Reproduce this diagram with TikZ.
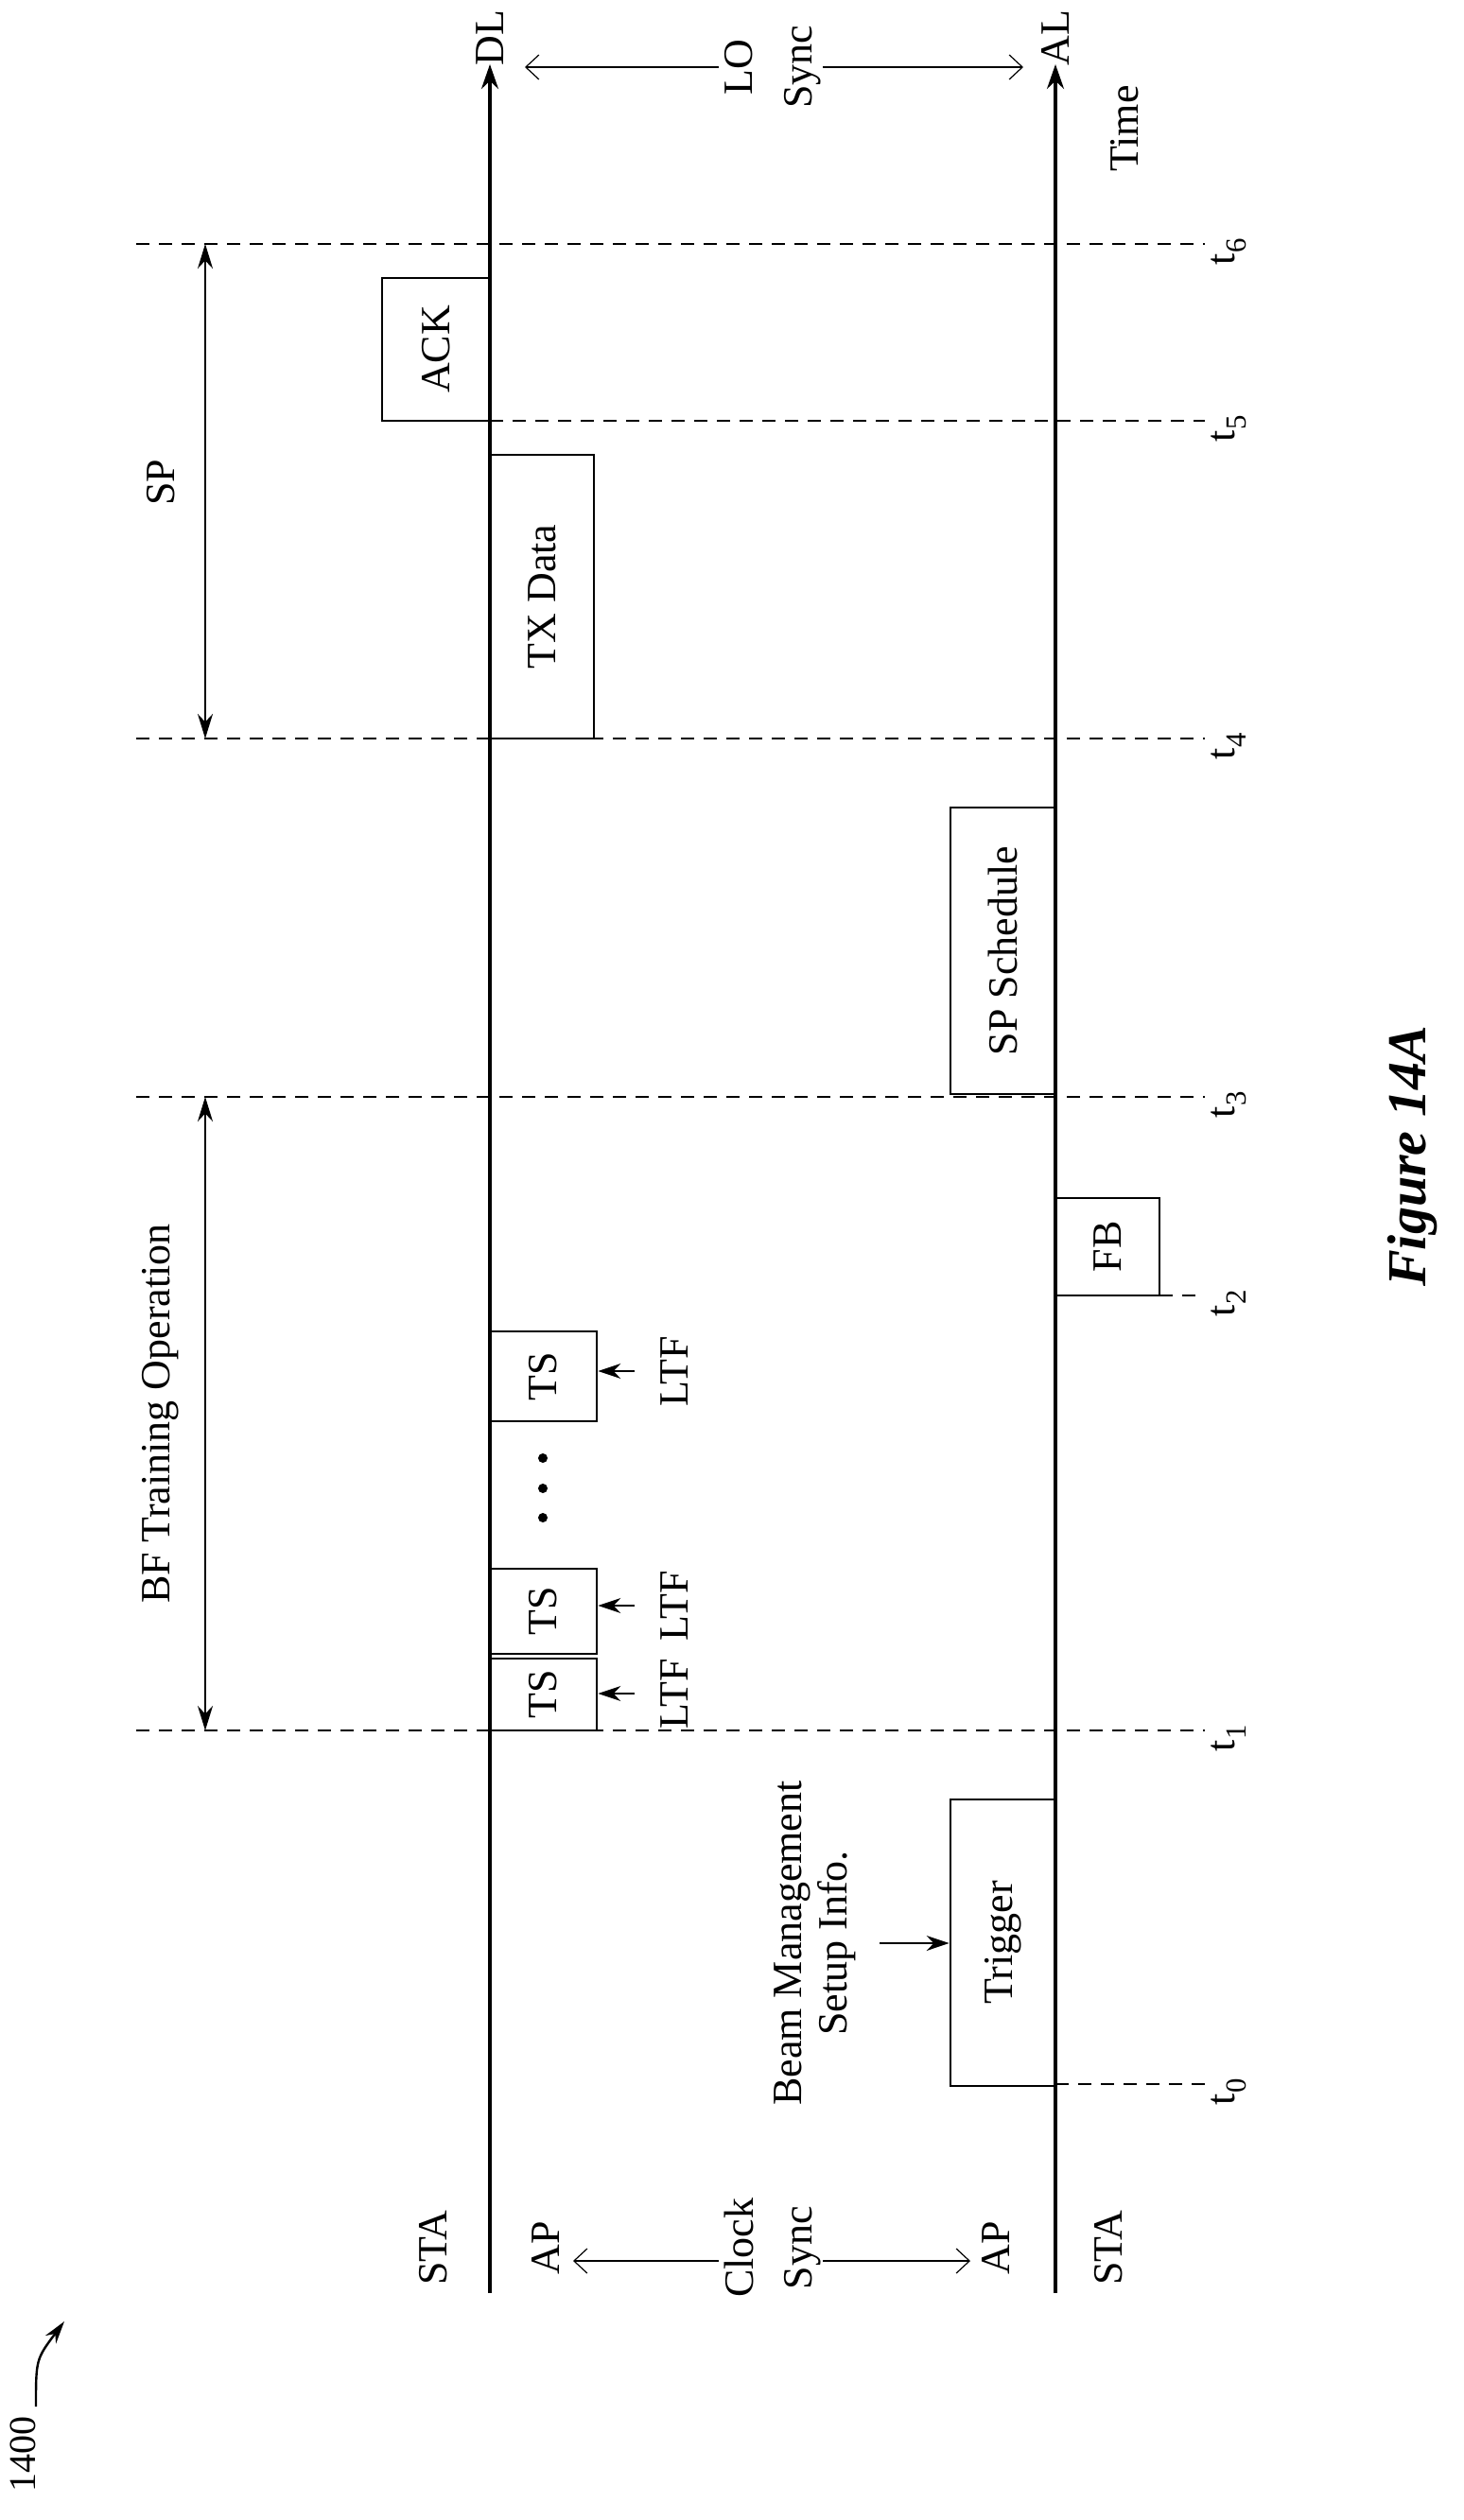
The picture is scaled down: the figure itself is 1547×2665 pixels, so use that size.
\documentclass[tikz,border=0pt]{standalone}
\usepackage{fontspec}
\setmainfont{Liberation Serif}
\usetikzlibrary{arrows.meta,calc}
\begin{document}
\begin{tikzpicture}[x=1pt,y=-1pt]
\tikzstyle{lbl}=[inner sep=0pt, rotate=90, font=\fontsize{44}{48}\selectfont]
\tikzstyle{frame}=[draw, line width=2.8pt, rotate=90, font=\fontsize{44}{48}\selectfont]
\tikzstyle{axis}=[line width=3.4pt, -{Stealth[length=26pt,width=18pt]}]
\tikzstyle{tmark}=[line width=1.4pt, dash pattern=on 14pt off 10pt]
\tikzstyle{span}=[line width=2.2pt, {Stealth[length=26pt,width=16pt]}-{Stealth[length=26pt,width=16pt]}]
\tikzstyle{sync}=[line width=1.2pt, -{Straight Barb[length=14pt,width=26pt]}]
\tikzstyle{feed}=[line width=1.6pt, -{Stealth[length=24pt,width=16pt]}]

\useasboundingbox (0,0) rectangle (1547,2665);

% axes
\coordinate (DLbot) at (518,2425);
\coordinate (DLtop) at (518,68);
\coordinate (ALbot) at (1116,2425);
\coordinate (ALtop) at (1116,68);
\draw[axis] (DLbot) -- (DLtop);
\draw[axis] (ALbot) -- (ALtop);
\node[lbl] (DL) at (518,40) {DL};
\node[lbl] (AL) at (1116,40) {AL};
\node[lbl] (LO)   at (781,71) {LO};
\node[lbl] (LOs)  at (849,71) {Sync};
\coordinate (LOl) at (555,71);
\coordinate (LOr) at (1082,71);
\coordinate (LOa) at (760,71);
\coordinate (LOb) at (870,71);
\draw[sync] (LOa) -- (LOl);
\draw[sync] (LOb) -- (LOr);
\node[lbl] (time) at (1189,136) {Time};

% left labels
\node[lbl] (sta1) at (458,2377) {STA};
\node[lbl] (ap1)  at (577,2377) {AP};
\node[lbl] (clk)  at (781,2377) {Clock};
\node[lbl] (clks) at (849,2377) {Sync};
\node[lbl] (ap2)  at (1053,2377) {AP};
\node[lbl] (sta2) at (1172,2377) {STA};
\coordinate (CKl) at (606,2391);
\coordinate (CKr) at (1026,2391);
\coordinate (CKa) at (760,2391);
\coordinate (CKb) at (870,2391);
\draw[sync] (CKa) -- (CKl);
\draw[sync] (CKb) -- (CKr);

% time marks
\foreach \n/\y/\xa in {0/2204/1116, 1/1830/144, 2/1370/1226, 3/1160/144, 4/781/144, 5/445/518, 6/258/144}{
  \coordinate (ta\n) at (\xa,\y);
  \coordinate (tb\n) at (1274,\y);
  \draw[tmark] (ta\n) -- (tb\n);
  \node[lbl] (t\n) at (1299,\y+8) {t\textsubscript{\n}};
}

% spans
\coordinate (BFa) at (217,1160);
\coordinate (BFb) at (217,1830);
\draw[span] (BFa) -- (BFb);
\node[lbl] (BF) at (170,1495) {BF Training Operation};
\coordinate (SPa) at (217,258);
\coordinate (SPb) at (217,781);
\draw[span] (SPa) -- (SPb);
\node[lbl] (SP) at (170,510) {SP};

% frames
\node[frame, minimum width=303pt, minimum height=111pt] (trig) at (1060.5,2054.5) {Trigger};
\node[frame, minimum width=103pt, minimum height=110pt] (fb)   at (1171,1318.5) {FB};
\node[frame, minimum width=303pt, minimum height=111pt] (sps)  at (1060.5,1005.5) {SP Schedule};
\node[frame, minimum width=300pt, minimum height=110pt] (tx)   at (573,631) {TX Data};
\node[frame, minimum width=151pt, minimum height=114pt] (ack)  at (461,369.5) {ACK};
\node[frame, minimum width=76pt,  minimum height=113pt] (ts1)  at (574.5,1792) {TS};
\node[frame, minimum width=90pt,  minimum height=113pt] (ts2)  at (574.5,1704) {TS};
\node[frame, minimum width=95pt,  minimum height=113pt] (ts3)  at (574.5,1455.5) {TS};
\foreach \y in {1542,1574,1605}{ \fill (574,\y) circle (5pt); }

% LTF feeds
\foreach \k/\y in {1/1791,2/1698,3/1450}{
  \coordinate (lf\k) at (671,\y);
  \draw[feed] (lf\k) -- (ts\k.south |- lf\k);
  \node[lbl] (ltf\k) at (713,\y) {LTF};
}

% beam management
\node[lbl, align=center] (bm) at (862,2055) {Beam Management\\Setup Info.};
\coordinate (bmf) at (930,2055);
\draw[feed] (bmf) -- (trig.north |- bmf);

% figure label and ref
\node[lbl, font=\fontsize{58}{62}\selectfont\bfseries\itshape] (fig) at (1494,1223) {Figure 14A};
\node[lbl, font=\fontsize{40}{44}\selectfont] (ref) at (24,2595) {1400};
\coordinate (refa) at (38,2545);
\coordinate (refb) at (68,2455);
\draw[line width=2.4pt, -{Stealth[length=24pt,width=14pt]}] (refa) .. controls (38,2495) .. (refb);
\end{tikzpicture}
\end{document}
